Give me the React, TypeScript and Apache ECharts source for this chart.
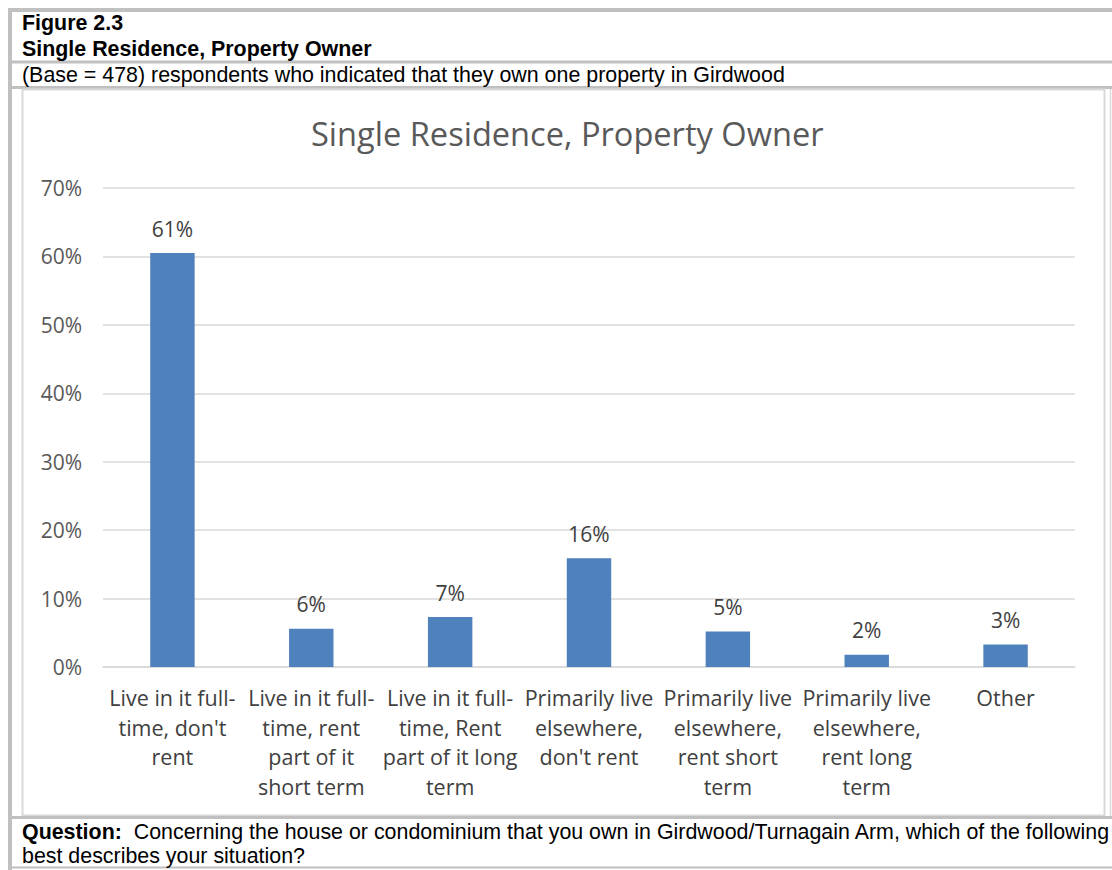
import React, { useEffect, useRef } from "react";
import * as echarts from "echarts";

const categories = [
  "Live in it full-\ntime, don't\nrent",
  "Live in it full-\ntime, rent\npart of it\nshort term",
  "Live in it full-\ntime, Rent\npart of it long\nterm",
  "Primarily live\nelsewhere,\ndon't rent",
  "Primarily live\nelsewhere,\nrent short\nterm",
  "Primarily live\nelsewhere,\nrent long\nterm",
  "Other",
];
const values = [60.5, 5.6, 7.3, 15.9, 5.2, 1.8, 3.3];
const figureLabel = "Figure 2.3";
const figureTitle = "Single Residence, Property Owner";
const baseText = "(Base = 478) respondents who indicated that they own one property in Girdwood";
const chartTitle = "Single Residence, Property Owner";
const questionLine1 = "Concerning the house or condominium that you own in Girdwood/Turnagain Arm, which of the following";
const questionLine2 = "best describes your situation?";

const FRAME = "#c0c0c0";
const BOX = "#d9d9d9";

export default function App() {
  const ref = useRef<HTMLDivElement>(null);
  useEffect(() => {
    const chart = echarts.init(ref.current!, null, { renderer: "svg" });
    const hline = (y: number, w: number, x1 = 12, x2 = 1112, color = FRAME) => ({
      type: "line",
      shape: { x1, y1: y, x2, y2: y },
      style: { stroke: color, lineWidth: w },
      silent: true,
    });
    const vline = (x: number, w: number, y1: number, y2: number, color = FRAME) => ({
      type: "line",
      shape: { x1: x, y1, x2: x, y2 },
      style: { stroke: color, lineWidth: w },
      silent: true,
    });
    const sansFont = "'Liberation Sans', Arial, sans-serif";
    const hdr = 21.4;
    chart.setOption({
      animation: false,
      backgroundColor: "#ffffff",
      title: {
        text: chartTitle,
        left: 306,
        top: 112,
        textStyle: {
          fontFamily: "'Open Sans', sans-serif",
          fontSize: 32.6,
          fontWeight: "normal",
          color: "#595959",
        },
      },
      grid: { left: 103, right: 37, top: 188, bottom: 203, containLabel: false },
      xAxis: {
        type: "category",
        data: categories,
        axisLine: { show: true, lineStyle: { color: BOX, width: 1.5 } },
        axisTick: { show: false },
        axisLabel: {
          interval: 0,
          margin: 16,
          fontFamily: "'Open Sans', sans-serif",
          fontSize: 21.5,
          lineHeight: 29.5,
          color: "#404040",
        },
      },
      yAxis: {
        type: "value",
        min: 0,
        max: 70,
        interval: 10,
        axisLine: { show: false },
        axisTick: { show: false },
        splitLine: { lineStyle: { color: BOX, width: 1.5 } },
        axisLabel: {
          margin: 21,
          formatter: (v: number) => v + "%",
          fontFamily: "'Open Sans', sans-serif",
          fontSize: 21,
          color: "#595959",
        },
      },
      series: [
        {
          type: "bar",
          data: values,
          barCategoryGap: "68%",
          itemStyle: { color: "#4f81bd" },
          label: {
            show: true,
            position: "top",
            distance: 14,
            formatter: (p: any) => Math.round(p.value) + "%",
            fontFamily: "'Open Sans', sans-serif",
            fontSize: 21,
            color: "#404040",
          },
        },
      ],
      graphic: [
        hline(10, 4, 8, 1112),
        vline(10, 4, 8, 870),
        hline(62, 3),
        hline(87.5, 3),
        {
          type: "rect",
          shape: { x: 22.5, y: 89.5, width: 1082, height: 726 },
          style: { fill: "none", stroke: BOX, lineWidth: 2 },
          silent: true,
        },
        vline(1110.5, 1.5, 89, 817, BOX),
        hline(817.5, 3),
        hline(867.5, 2),
        {
          type: "text",
          x: 22,
          y: 23,
          style: {
            text: figureLabel,
            font: `bold ${hdr}px ${sansFont}`,
            fill: "#000",
            verticalAlign: "middle",
          },
        },
        {
          type: "text",
          x: 22,
          y: 49,
          style: {
            text: figureTitle,
            font: `bold ${hdr}px ${sansFont}`,
            fill: "#000",
            verticalAlign: "middle",
          },
        },
        {
          type: "text",
          x: 22,
          y: 75,
          style: {
            text: baseText,
            font: `${hdr}px ${sansFont}`,
            fill: "#000",
            verticalAlign: "middle",
          },
        },
        {
          type: "text",
          x: 22,
          y: 832,
          style: {
            text: "{b|Question:}  " + questionLine1,
            font: `${hdr}px ${sansFont}`,
            fill: "#000",
            verticalAlign: "middle",
            rich: {
              b: { fontWeight: "bold", fontSize: hdr, fontFamily: sansFont, fill: "#000" },
            },
          },
        },
        {
          type: "text",
          x: 22,
          y: 856,
          style: {
            text: questionLine2,
            font: `${hdr}px ${sansFont}`,
            fill: "#000",
            verticalAlign: "middle",
          },
        },
      ],
    });
    return () => chart.dispose();
  }, []);
  return (
    <div
      ref={ref}
      style={{ position: "absolute", left: 0, top: 0, width: 1112, height: 870 }}
    />
  );
}
